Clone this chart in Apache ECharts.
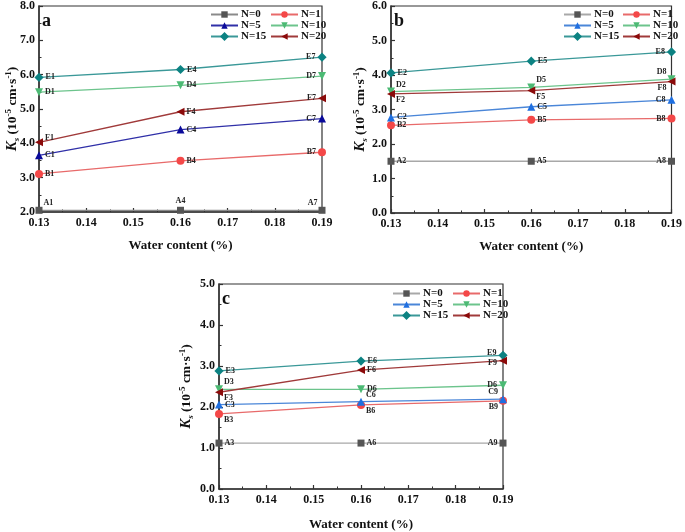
<!DOCTYPE html>
<html><head><meta charset="utf-8">
<script src="https://cdn.jsdelivr.net/npm/echarts@6/dist/echarts.min.js"></script>
<style>html,body{margin:0;padding:0;background:#fff}#c{width:685px;height:532px}</style>
</head><body><div id="c"></div>
<script>
// ---- data ----
const waterContent = [0.13, 0.16, 0.19];
const seriesNames = ['N=0', 'N=1', 'N=5', 'N=10', 'N=15', 'N=20'];

// panel a
const ksA_N0 = [2.05, 2.05, 2.05];
const ksA_N1 = [3.11, 3.49, 3.74];
const ksA_N5 = [3.65, 4.40, 4.72];
const ksA_N10 = [5.49, 5.69, 5.96];
const ksA_N15 = [5.92, 6.15, 6.51];
const ksA_N20 = [4.03, 4.92, 5.31];
// panel b
const ksB_N0 = [1.50, 1.50, 1.50];
const ksB_N1 = [2.54, 2.70, 2.74];
const ksB_N5 = [2.77, 3.08, 3.28];
const ksB_N10 = [3.52, 3.64, 3.88];
const ksB_N15 = [4.06, 4.40, 4.67];
const ksB_N20 = [3.45, 3.55, 3.81];
// panel c
const ksC_N0 = [1.12, 1.12, 1.12];
const ksC_N1 = [1.83, 2.05, 2.15];
const ksC_N5 = [2.06, 2.13, 2.19];
const ksC_N10 = [2.43, 2.43, 2.53];
const ksC_N15 = [2.88, 3.12, 3.26];
const ksC_N20 = [2.36, 2.90, 3.13];

// point labels
const labA_N0 = ['A1', 'A4', 'A7'], labA_N1 = ['B1', 'B4', 'B7'], labA_N5 = ['C1', 'C4', 'C7'];
const labA_N10 = ['D1', 'D4', 'D7'], labA_N15 = ['E1', 'E4', 'E7'], labA_N20 = ['F1', 'F4', 'F7'];
const labB_N0 = ['A2', 'A5', 'A8'], labB_N1 = ['B2', 'B5', 'B8'], labB_N5 = ['C2', 'C5', 'C8'];
const labB_N10 = ['D2', 'D5', 'D8'], labB_N15 = ['E2', 'E5', 'E8'], labB_N20 = ['F2', 'F5', 'F8'];
const labC_N0 = ['A3', 'A6', 'A9'], labC_N1 = ['B3', 'B6', 'B9'], labC_N5 = ['C3', 'C6', 'C9'];
const labC_N10 = ['D3', 'D6', 'D6'], labC_N15 = ['E3', 'E6', 'E9'], labC_N20 = ['F3', 'F6', 'F9'];

const yTicksA = {min: 2, max: 8, interval: 1};
const yTicksB = {min: 0, max: 6, interval: 1};
const yTicksC = {min: 0, max: 5, interval: 1};

// ---- styles ----
const SERIF = '"Liberation Serif", "DejaVu Serif", serif';
const markerColorsA = ['#555555', '#f44848', '#0a0a9a', '#4cba74', '#0c8282', '#8b0a0a'];
const lineColorsA = ['#8a8a8a', '#e86a6a', '#3030a8', '#6cc48c', '#3a9898', '#a03a3a'];
const markerColorsBC = ['#555555', '#f44848', '#1f6fe0', '#4cba74', '#0c8282', '#8b0a0a'];
const lineColorsBC = ['#a8a8a8', '#e86a6a', '#4a86d8', '#6cc48c', '#3a9898', '#a03a3a'];
const symbols = ['rect', 'circle', 'triangle', 'triangle', 'rect', 'triangle'];
const symRot = [0, 0, 0, 180, 45, 90];
const symSize = [7, 8, 8, 8, 6.5, 8];

const posA = [['tr','t','tl'], ['r','r','l'], ['r','r','l'], ['r','r','l'], ['r','r','l'], ['tr2','r','l']];
const posB = [['r','r','l'], ['r','r','l'], ['r','r','l'], ['tr','tr','tl'], ['r','r','l'], ['br','br','bl']];
const posC = [['r','r','l'], ['br','br','bl'], ['r','tr','tl'], ['tr','r','l'], ['r','r','lu'], ['br','r','ld']];

function labelCfg(code) {
  const m = {
    r: {position: 'right', offset: [0, 0]},
    l: {position: 'left', offset: [0, 0]},
    lu: {position: 'left', offset: [0, -2]},
    ld: {position: 'left', offset: [0, 2]},
    t: {position: 'top', offset: [0, 0]},
    tr: {position: 'right', offset: [-1, -7]},
    tr2: {position: 'right', offset: [0, -4]},
    tl: {position: 'left', offset: [1, -7]},
    br: {position: 'right', offset: [-1, 6]},
    bl: {position: 'left', offset: [1, 6]}
  }[code];
  return {position: m.position, offset: m.offset, distance: 2};
}

const panels = [
  {grid: {left: 39, top: 6, width: 283, height: 206}, y: yTicksA, ks: [ksA_N0, ksA_N1, ksA_N5, ksA_N10, ksA_N15, ksA_N20],
   lab: [labA_N0, labA_N1, labA_N5, labA_N10, labA_N15, labA_N20], pos: posA, mc: markerColorsA, lc: lineColorsA,
   leg: [210, 270, 9], letter: ['a', 42, 12], suffix: '', yGap: 18},
  {grid: {left: 391, top: 6, width: 284, height: 207}, y: yTicksB, ks: [ksB_N0, ksB_N1, ksB_N5, ksB_N10, ksB_N15, ksB_N20],
   lab: [labB_N0, labB_N1, labB_N5, labB_N10, labB_N15, labB_N20], pos: posB, mc: markerColorsBC, lc: lineColorsBC,
   leg: [563, 622, 9], letter: ['b', 394, 12], suffix: ' ', yGap: 22},
  {grid: {left: 219, top: 284, width: 284, height: 208}, y: yTicksC, ks: [ksC_N0, ksC_N1, ksC_N5, ksC_N10, ksC_N15, ksC_N20],
   lab: [labC_N0, labC_N1, labC_N5, labC_N10, labC_N15, labC_N20], pos: posC, mc: markerColorsBC, lc: lineColorsBC,
   leg: [392, 452, 288], letter: ['c', 222, 290], suffix: '  ', yGap: 24}
];

const option = {animation: false, backgroundColor: '#fff', grid: [], xAxis: [], yAxis: [], series: [], legend: [], graphic: []};
const axisTextBold = {fontFamily: SERIF, fontWeight: 'bold', fontSize: 12, color: '#111'};

panels.forEach((p, pi) => {
  option.grid.push(Object.assign({show: true, borderColor: '#333', borderWidth: 1.2, backgroundColor: 'transparent'}, p.grid));
  option.xAxis.push({
    type: 'value', gridIndex: pi, min: 0.13, max: 0.19, interval: 0.01,
    axisLine: {show: true, onZero: false, lineStyle: {color: '#333', width: 1.5}},
    axisTick: {show: true, inside: true, length: 4, lineStyle: {color: '#333', width: 1.2}},
    minorTick: {show: true, splitNumber: 2, length: 2.5, lineStyle: {color: '#333'}},
    splitLine: {show: false},
    axisLabel: Object.assign({margin: 5, formatter: v => v.toFixed(2)}, axisTextBold),
    name: 'Water content (%)', nameLocation: 'middle', nameGap: pi === 2 ? 29 : 27,
    nameTextStyle: {fontFamily: SERIF, fontWeight: 'bold', fontSize: 13, color: '#111'}
  });
  option.yAxis.push({
    type: 'value', gridIndex: pi, min: p.y.min, max: p.y.max, interval: p.y.interval,
    axisLine: {show: true, onZero: false, lineStyle: {color: '#333', width: 1.5}},
    axisTick: {show: true, inside: true, length: 4, lineStyle: {color: '#333', width: 1.2}},
    minorTick: {show: true, splitNumber: 2, length: 2.5, lineStyle: {color: '#333'}},
    splitLine: {show: false},
    axisLabel: Object.assign({margin: 4, formatter: v => v.toFixed(1)}, axisTextBold),
    name: '{k|K}{sub|s}{n| (10}{sup|-5}{n| cm·s}{sup|-1}{n|)}', nameLocation: 'middle', nameGap: p.yGap, nameRotate: 90,
    nameMoveOverlap: false,
    nameTextStyle: {
      fontFamily: SERIF, fontWeight: 'bold', fontSize: 14, color: '#111',
      rich: {
        k: {fontFamily: SERIF, fontWeight: 'bold', fontStyle: 'italic', fontSize: 15, color: '#111', lineHeight: 17},
        n: {fontFamily: SERIF, fontWeight: 'bold', fontSize: 13.5, color: '#111', lineHeight: 17},
        sub: {fontFamily: SERIF, fontWeight: 'bold', fontStyle: 'italic', fontSize: 9, color: '#111', lineHeight: 17, verticalAlign: 'bottom'},
        sup: {fontFamily: SERIF, fontWeight: 'bold', fontSize: 9, color: '#111', lineHeight: 17, verticalAlign: 'top'}
      }
    }
  });
  seriesNames.forEach((name, si) => {
    option.series.push({
      type: 'line', name: name + p.suffix, xAxisIndex: pi, yAxisIndex: pi,
      symbol: symbols[si], symbolRotate: symRot[si], symbolSize: symSize[si],
      lineStyle: {color: p.lc[si], width: 1.3},
      itemStyle: {color: p.mc[si]},
      label: {show: true, fontFamily: SERIF, fontWeight: 'bold', fontSize: 8, color: '#222', formatter: d => d.name},
      z: 3 + si,
      data: waterContent.map((x, i) => Object.assign({name: p.lab[si][i], value: [x, p.ks[si][i]]},
        {label: labelCfg(p.pos[si][i])}))
    });
  });
  const legCommon = {
    orient: 'vertical', itemWidth: 27, itemHeight: 8, itemGap: 0, padding: 0,
    formatter: n => n.trim(),
    textStyle: {fontFamily: SERIF, fontWeight: 'bold', fontSize: 11, lineHeight: 11, color: '#111', padding: [0, 0, 0, -2]},
    top: p.leg[2], selectedMode: false
  };
  option.legend.push(Object.assign({}, legCommon, {left: p.leg[0], data: ['N=0', 'N=5', 'N=15'].map(n => n + p.suffix)}));
  option.legend.push(Object.assign({}, legCommon, {left: p.leg[1], data: ['N=1', 'N=10', 'N=20'].map(n => n + p.suffix)}));
  option.graphic.push({type: 'text', left: p.letter[1], top: p.letter[2],
    style: {text: p.letter[0], font: 'bold 18px ' + SERIF, fill: '#111'}});
});

const chart = echarts.init(document.getElementById('c'), null, {renderer: 'canvas'});
chart.setOption(option);
</script></body></html>
